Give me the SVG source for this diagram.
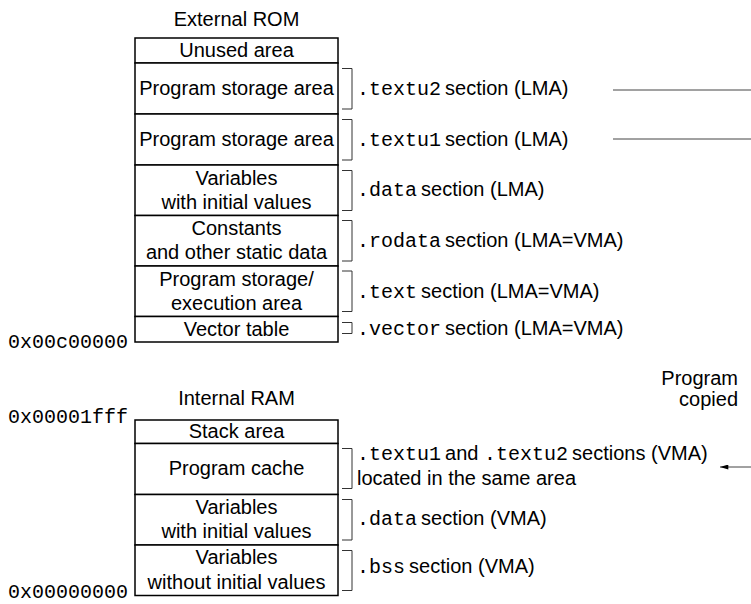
<svg xmlns="http://www.w3.org/2000/svg" width="751" height="604" viewBox="0 0 751 604">
<defs>
<style>
text{font-family:"Liberation Sans",Arial,sans-serif;font-size:20px;fill:#000}
.m{font-family:"Liberation Mono","Courier New",monospace;font-size:20px}
.c{text-anchor:middle}
.box{fill:#fff;stroke:#000;stroke-width:1.5}
.br{fill:none;stroke:#333;stroke-width:1}
.ln{fill:none;stroke:#444;stroke-width:1}
</style>
<marker id="ah" viewBox="0 0 10 6" refX="10" refY="3" markerWidth="9" markerHeight="5" markerUnits="userSpaceOnUse" orient="auto">
<path d="M0,0 L10,3 L0,6 Z" fill="#000"/>
</marker>
</defs>

<g id="title-rom"><text class="c" x="236.5" y="26">External ROM</text></g>
<g id="title-ram"><text class="c" x="236.5" y="405">Internal RAM</text></g>

<g id="rom-unused"><rect class="box" x="135" y="38" width="203" height="25"/><text class="c" x="236.5" y="57">Unused area</text></g>
<g id="rom-textu2"><rect class="box" x="135" y="63" width="203" height="51"/><text class="c" x="236.5" y="95">Program storage area</text></g>
<g id="rom-textu1"><rect class="box" x="135" y="114" width="203" height="51"/><text class="c" x="236.5" y="146">Program storage area</text></g>
<g id="rom-data"><rect class="box" x="135" y="165" width="203" height="50.5"/><text class="c" x="236.5" y="184.5">Variables</text><text class="c" x="236.5" y="208.5">with initial values</text></g>
<g id="rom-rodata"><rect class="box" x="135" y="215.5" width="203" height="50.5"/><text class="c" x="236.5" y="235">Constants</text><text class="c" x="236.5" y="259">and other static data</text></g>
<g id="rom-text"><rect class="box" x="135" y="266" width="203" height="50.5"/><text class="c" x="236.5" y="285.5">Program storage/</text><text class="c" x="236.5" y="309.5">execution area</text></g>
<g id="rom-vector"><rect class="box" x="135" y="316.5" width="203" height="25.5"/><text class="c" x="236.5" y="336">Vector table</text></g>

<g id="addr-rom"><text class="m" x="8" y="348">0x00c00000</text></g>
<g id="addr-ram-top"><text class="m" x="8" y="423">0x00001fff</text></g>
<g id="addr-ram-bottom"><text class="m" x="8" y="598">0x00000000</text></g>

<g id="lbl-textu2"><path class="br" d="M342,68.5H352V109H342"/><text x="357" y="95"><tspan class="m">.textu2</tspan><tspan dx="-1.5"> section (LMA)</tspan></text></g>
<g id="lbl-textu1"><path class="br" d="M342,119.5H352V160H342"/><text x="357" y="146"><tspan class="m">.textu1</tspan><tspan dx="-1.5"> section (LMA)</tspan></text></g>
<g id="lbl-data-lma"><path class="br" d="M342,170.5H352V210.5H342"/><text x="357" y="196"><tspan class="m">.data</tspan><tspan dx="-1.5"> section (LMA)</tspan></text></g>
<g id="lbl-rodata"><path class="br" d="M342,220.5H352V261H342"/><text x="357" y="247"><tspan class="m">.rodata</tspan><tspan dx="-1.5"> section (LMA=VMA)</tspan></text></g>
<g id="lbl-text"><path class="br" d="M342,271H352V311.5H342"/><text x="357" y="297.5"><tspan class="m">.text</tspan><tspan dx="-1.5"> section (LMA=VMA)</tspan></text></g>
<g id="lbl-vector"><path class="br" d="M342,322.5H352V333.5H342"/><text x="357" y="335"><tspan class="m">.vector</tspan><tspan dx="-1.5"> section (LMA=VMA)</tspan></text></g>

<g id="ram-stack"><rect class="box" x="135" y="420" width="203" height="23.5"/><text class="c" x="236.5" y="437.5">Stack area</text></g>
<g id="ram-cache"><rect class="box" x="135" y="443.5" width="203" height="51"/><text class="c" x="236.5" y="475">Program cache</text></g>
<g id="ram-data"><rect class="box" x="135" y="494.5" width="203" height="50.5"/><text class="c" x="236.5" y="514">Variables</text><text class="c" x="236.5" y="538">with initial values</text></g>
<g id="ram-bss"><rect class="box" x="135" y="545" width="203" height="50.5"/><text class="c" x="236.5" y="564">Variables</text><text class="c" x="236.5" y="588.5">without initial values</text></g>

<g id="lbl-textu-vma"><path class="br" d="M342,448.5H352V488.5H342"/><text x="357" y="460"><tspan class="m">.textu1</tspan><tspan dx="-1.5"> and </tspan><tspan class="m">.textu2</tspan><tspan dx="-1.5"> sections (VMA)</tspan></text><text x="357" y="485">located in the same area</text></g>
<g id="lbl-data-vma"><path class="br" d="M342,499.5H352V540H342"/><text x="357" y="525"><tspan class="m">.data</tspan><tspan dx="-1.5"> section (VMA)</tspan></text></g>
<g id="lbl-bss"><path class="br" d="M342,550.5H352V590.5H342"/><text x="357" y="573"><tspan class="m">.bss</tspan><tspan dx="-1.5"> section (VMA)</tspan></text></g>

<g id="lbl-copied"><text x="738" y="385" text-anchor="end">Program</text><text x="738" y="406" text-anchor="end">copied</text></g>

<g id="connectors">
<line class="ln" x1="751" y1="467" x2="720" y2="467" marker-end="url(#ah)"/>
<line class="ln" x1="613" y1="90" x2="751" y2="90"/>
<line class="ln" x1="613" y1="139" x2="751" y2="139"/>
</g>
</svg>
